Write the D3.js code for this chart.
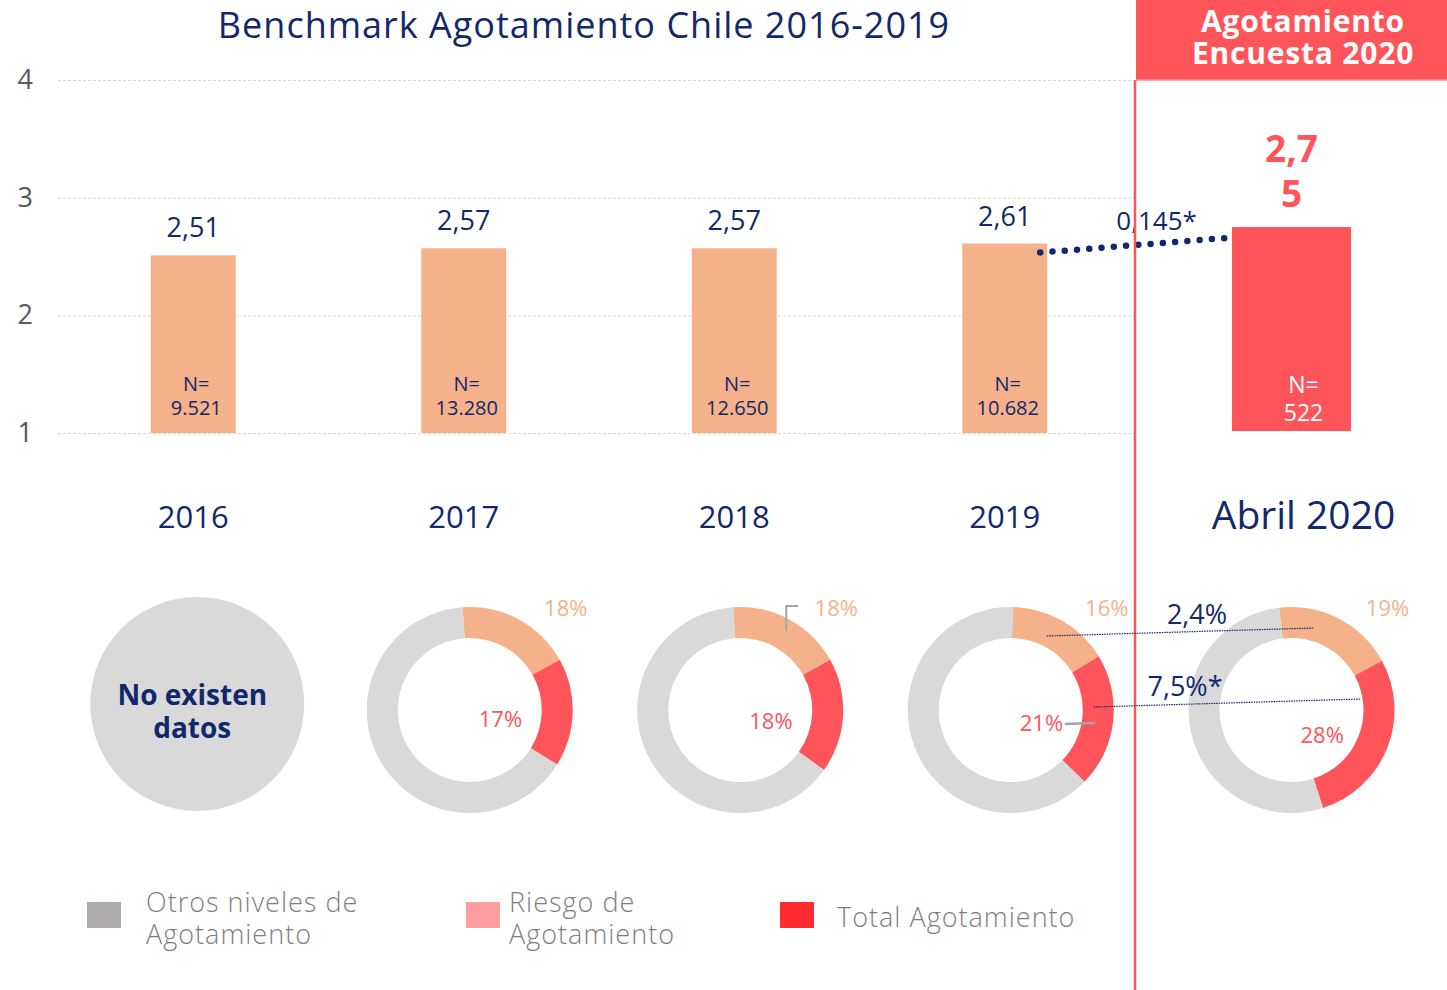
<!DOCTYPE html>
<html>
<head>
<meta charset="utf-8">
<script src="https://cdn.jsdelivr.net/npm/d3@7"></script>
<style>
  body { margin: 0; background: #fff; }
  svg { display: block; font-family: "Open Sans", sans-serif; }
</style>
</head>
<body>
<svg id="chart" width="1447" height="990"></svg>
<script>
// benchmark values
const years = ["2016", "2017", "2018", "2019"];
const yearValues = [2.51, 2.57, 2.57, 2.61];
const yearN = ["9.521", "13.280", "12.650", "10.682"];
const yearValueLabels = ["2,51", "2,57", "2,57", "2,61"];

const survey = "Abril 2020";
const surveyValue = 2.75;
const surveyValueLabel = ["2,7", "5"];
const surveyN = "522";

const yTicks = [1, 2, 3, 4];
const diffLabel = "0,145*";

// donuts (percent riesgo / total agotamiento)
const donutCats = ["2017", "2018", "2019", "Abril 2020"];
const riesgo = [18, 18, 16, 19];
const totalAgot = [17, 18, 21, 28];
const donutRotation = [-4, -4, 1, -7]; // degrees
const riesgoDiff = "2,4%";
const totalDiff = "7,5%*";

const legendItems = [
  { label: ["Otros niveles de", "Agotamiento"], color: "#aeaaaa" },
  { label: ["Riesgo de", "Agotamiento"], color: "#ff9ea0" },
  { label: ["Total Agotamiento"], color: "#ff2b30" }
];

const navy = "#13286b";
const peach = "#f5b189";
const red = "#ff5459";
const ringGray = "#d9d9d9";

const svg = d3.select("#chart");

const y = d3.scaleLinear().domain([1, 4]).range([433, 80]);

const x = d3.scaleBand().domain(years).range([58, 1140])
  .paddingInner(0.686).paddingOuter(0.343);

const x2 = d3.scaleBand().domain([survey]).range([1136, 1447])
  .paddingInner(0).paddingOuter(0.807);

// title
svg.append("text")
  .attr("x", 584).attr("y", 38)
  .attr("text-anchor", "middle")
  .attr("fill", navy)
  .style("font-size", "36px")
  .style("letter-spacing", "1px")
  .text("Benchmark Agotamiento Chile 2016-2019");

// grid + y axis
const yAxis = svg.append("g")
  .attr("transform", "translate(58,0)")
  .call(d3.axisLeft(y).tickValues(yTicks).tickSize(-1080).tickFormat(d3.format("d")));
yAxis.select(".domain").remove();
yAxis.selectAll(".tick line")
  .attr("stroke", "#d9d9d9")
  .attr("stroke-dasharray", "3 2");
yAxis.selectAll(".tick text")
  .attr("x", -25)
  .attr("fill", "#595959")
  .style("font-size", "27px")
  .style("font-family", "'Open Sans', sans-serif");

// header box
svg.append("rect")
  .attr("x", 1136).attr("y", 0).attr("width", 311).attr("height", 80)
  .attr("fill", red);
svg.append("line")
  .attr("x1", 1136).attr("x2", 1447).attr("y1", 80).attr("y2", 80)
  .attr("stroke", "#ff8d90").attr("stroke-width", 1.5);
svg.append("text")
  .attr("x", 1303).attr("text-anchor", "middle")
  .attr("fill", "#fff").style("font-size", "30px").style("font-weight", 700)
  .style("letter-spacing", "0.8px")
  .selectAll("tspan").data(["Agotamiento", "Encuesta 2020"]).join("tspan")
  .attr("x", 1303).attr("y", (d, i) => 32 + i * 32).text(d => d);

// bars
const bars = svg.append("g");
bars.selectAll("rect").data(years).join("rect")
  .attr("x", d => x(d))
  .attr("width", x.bandwidth())
  .attr("y", (d, i) => y(yearValues[i]))
  .attr("height", (d, i) => y(1) - y(yearValues[i]))
  .attr("fill", peach);

bars.selectAll(".val").data(years).join("text")
  .attr("class", "val")
  .attr("x", d => x(d) + x.bandwidth() / 2)
  .attr("y", (d, i) => y(yearValues[i]) - 18)
  .attr("text-anchor", "middle")
  .attr("fill", navy)
  .style("font-size", "27px")
  .text((d, i) => yearValueLabels[i]);

bars.selectAll(".n").data(years).join("text")
  .attr("class", "n")
  .attr("text-anchor", "middle")
  .attr("fill", navy)
  .style("font-size", "20px")
  .each(function(d, i) {
    const cx = x(d) + x.bandwidth() / 2 + 3;
    d3.select(this).selectAll("tspan").data(["N=", yearN[i]]).join("tspan")
      .attr("x", cx).attr("y", (t, j) => 391 + j * 24).text(t => t);
  });

bars.selectAll(".cat").data(years).join("text")
  .attr("class", "cat")
  .attr("x", d => x(d) + x.bandwidth() / 2)
  .attr("y", 528)
  .attr("text-anchor", "middle")
  .attr("fill", navy)
  .style("font-size", "31px")
  .text(d => d);

// survey bar
svg.append("rect")
  .attr("x", x2(survey)).attr("width", x2.bandwidth())
  .attr("y", y(surveyValue)).attr("height", y(1) - y(surveyValue) - 2)
  .attr("fill", red);
svg.append("text")
  .attr("text-anchor", "middle").attr("fill", red)
  .style("font-size", "37px").style("font-weight", 700)
  .selectAll("tspan").data(surveyValueLabel).join("tspan")
  .attr("x", x2(survey) + x2.bandwidth() / 2)
  .attr("y", (d, i) => y(surveyValue) - 65 + i * 45).text(d => d);
svg.append("text")
  .attr("text-anchor", "middle").attr("fill", "#fff")
  .style("font-size", "23px")
  .selectAll("tspan").data(["N=", surveyN]).join("tspan")
  .attr("x", x2(survey) + x2.bandwidth() / 2 + 12)
  .attr("y", (d, i) => 393 + i * 28).text(d => d);
svg.append("text")
  .attr("x", x2(survey) + x2.bandwidth() / 2 + 12).attr("y", 529)
  .attr("text-anchor", "middle").attr("fill", navy)
  .style("font-size", "39px")
  .text(survey);

// dotted connector between 2019 and 2020
const p0 = [x("2019") + x.bandwidth() - 7, y(yearValues[3]) + 9];
const p1 = [x2(survey) - 7, y(surveyValue) + 11];
svg.append("line")
  .attr("x1", p0[0]).attr("y1", p0[1]).attr("x2", p1[0]).attr("y2", p1[1])
  .attr("stroke", navy).attr("stroke-width", 6.5)
  .attr("stroke-linecap", "round").attr("stroke-dasharray", "0 12.3");
svg.append("text")
  .attr("x", (p0[0] + p1[0]) / 2 + 24).attr("y", (p0[1] + p1[1]) / 2 - 15)
  .attr("text-anchor", "middle").attr("fill", navy)
  .style("font-size", "26px")
  .text(diffLabel);

// red divider
svg.append("line")
  .attr("x1", 1135).attr("x2", 1135).attr("y1", 80).attr("y2", 990)
  .attr("stroke", red).attr("stroke-width", 2.5);

// donuts
const donutX = d => (d === survey ? x2(d) + x2.bandwidth() / 2 : x(d) + x.bandwidth() / 2 + 6);
const donutY = 710;
const rOut = 103, rIn = 72;
const arc = d3.arc().innerRadius(rIn).outerRadius(rOut);
const pie = d3.pie().sort(null).value(d => d.v);

// 2016: no data
const c16 = x("2016") + x.bandwidth() / 2 + 4;
svg.append("circle").attr("cx", c16).attr("cy", 704).attr("r", 107).attr("fill", ringGray);
svg.append("text")
  .attr("text-anchor", "middle").attr("fill", navy)
  .style("font-size", "28px").style("font-weight", 700)
  .selectAll("tspan").data(["No existen", "datos"]).join("tspan")
  .attr("x", c16 - 5).attr("y", (d, i) => 705 + i * 33).text(d => d);

donutCats.forEach((cat, i) => {
  const rot = donutRotation[i] * Math.PI / 180;
  const parts = [
    { k: "riesgo", v: riesgo[i], c: peach },
    { k: "total", v: totalAgot[i], c: red },
    { k: "otros", v: 100 - riesgo[i] - totalAgot[i], c: ringGray }
  ];
  const arcs = pie.startAngle(rot).endAngle(rot + 2 * Math.PI)(parts);
  const g = svg.append("g").attr("transform", `translate(${donutX(cat)},${donutY})`);
  g.selectAll("path").data(arcs).join("path")
    .attr("d", arc).attr("fill", d => d.data.c);
  // riesgo label outside
  g.append("text")
    .attr("x", 96).attr("y", -94)
    .attr("text-anchor", "middle").attr("fill", peach)
    .style("font-size", "22px")
    .text(riesgo[i] + "%");
  // total label inside the hole
  const red_a = arcs[1];
  const mid = (red_a.startAngle + red_a.endAngle) / 2;
  g.append("text")
    .attr("x", 9).attr("y", -Math.cos(mid) * 45 + 16)
    .attr("text-anchor", "start").attr("fill", red)
    .style("font-size", "22px")
    .text(totalAgot[i] + "%");
});

// little grey leader marks
svg.append("path")
  .attr("d", `M${donutX("2018") + 46},${donutY - 79}V${donutY - 104}h12`)
  .attr("fill", "none").attr("stroke", "#a6a6a6").attr("stroke-width", 2);
svg.append("line")
  .attr("x1", donutX("2019") + 54).attr("x2", donutX("2019") + 84)
  .attr("y1", donutY + 14).attr("y2", donutY + 13)
  .attr("stroke", "#a6a6a6").attr("stroke-width", 2.5);

// comparison lines 2019 -> 2020 (riesgo and total segments)
const cA = [donutX("2019"), donutY], cB = [donutX(survey), donutY];
const cmpStart = [[36, -74], [83, -3]];
cmpStart.forEach(s => {
  svg.append("line")
    .attr("x1", cA[0] + s[0]).attr("y1", cA[1] + s[1])
    .attr("x2", cB[0] + s[0] - 14).attr("y2", cB[1] + s[1] - 8)
    .attr("stroke", navy).attr("stroke-width", 1.2).attr("stroke-dasharray", "1.5 1");
});
svg.append("text").attr("x", 1197).attr("y", 624).attr("text-anchor", "middle")
  .attr("fill", navy).style("font-size", "27px").text(riesgoDiff);
svg.append("text").attr("x", 1185).attr("y", 696).attr("text-anchor", "middle")
  .attr("fill", navy).style("font-size", "27px").text(totalDiff);

// legend
const legX = [87, 466, 780];
const legTextX = [59, 43, 57];
const leg = svg.append("g").selectAll("g").data(legendItems).join("g")
  .attr("transform", (d, i) => `translate(${legX[i]},902)`);
leg.append("rect").attr("width", 34).attr("height", 26).attr("fill", d => d.color);
leg.append("text")
  .attr("fill", "#7f7f7f")
  .style("font-size", "27px").style("font-weight", 300)
  .style("letter-spacing", "1px")
  .each(function(d, i) {
    const off = d.label.length === 1 ? 25 : 10;
    d3.select(this).selectAll("tspan").data(d.label).join("tspan")
      .attr("x", legTextX[i])
      .attr("y", (t, j) => off + j * 32).text(t => t);
  });
</script>
</body>
</html>
